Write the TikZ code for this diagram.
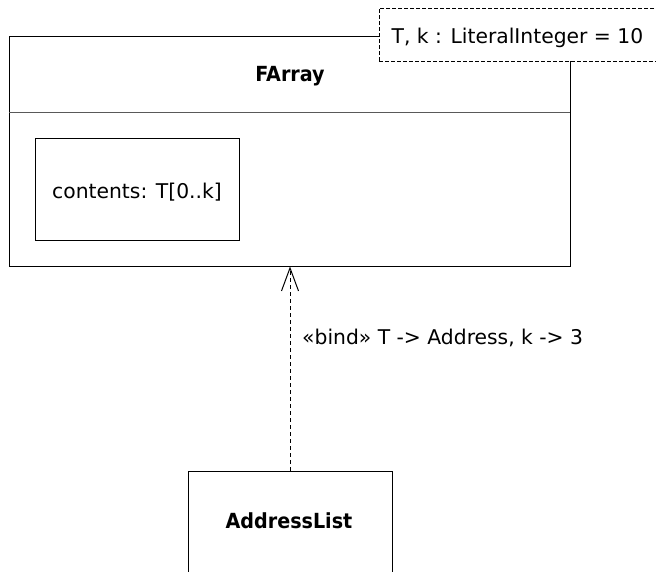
\documentclass[tikz,border=0pt]{standalone}
\usepackage{fontspec}
\setmainfont{DejaVu Sans}[BoldFeatures={FakeStretch=0.92}]
\usetikzlibrary{arrows.meta}
\tikzset{
  box/.style={draw=black, line width=1pt, inner sep=0pt, fill=white},
  tparam/.style={draw=black, line width=1pt, dash pattern=on 4pt off 2pt, fill=white, inner sep=0pt},
  lbl/.style={inner sep=0pt, font=\fontsize{20.3}{24}\selectfont},
  blbl/.style={inner sep=0pt, font=\fontsize{20.8}{24}\selectfont\bfseries},
  bindarrow/.style={draw=black, line width=1pt, dash pattern=on 4pt off 3pt, -{Straight Barb[length=23pt,width=17pt,line width=1pt]}}
}
\begin{document}
\begin{tikzpicture}[x=1pt,y=-1pt]
\useasboundingbox (0,0) rectangle (656,571);
\clip (0,0) rectangle (656,571);
% FArray class
\node[box, minimum width=561pt, minimum height=230pt] (farray) at (289.5,151) {};
\coordinate (divl) at (9,112.5);
\coordinate (divr) at (570,112.5);
\draw[line width=1pt, draw=black!65] (divl) -- (divr);
\node[blbl, anchor=base] (fname) at (290,81.5) {FArray};
% attribute box
\node[box, minimum width=204pt, minimum height=102pt] (attr) at (137,189) {};
\node[lbl, anchor=base] (attrtxt) at (137,198) {contents: T[0..k]};
% template parameter box
\node[tparam, minimum width=300pt, minimum height=53pt] (tpl) at (529,34.5) {};
\node[lbl, anchor=base west] (tpltxt) at (391.5,43.3) {T, k : LiteralInteger = 10};
% AddressList class
\node[box, minimum width=204pt, minimum height=140pt] (addr) at (290,541) {};
\node[blbl, anchor=base] (aname) at (289,528) {AddressList};
% binding
\draw[bindarrow] (addr.north) -- (addr.north |- farray.south);
\node[lbl, anchor=base west] (bindlbl) at (302,344) {«bind» T -> Address, k -> 3};
\end{tikzpicture}
\end{document}
